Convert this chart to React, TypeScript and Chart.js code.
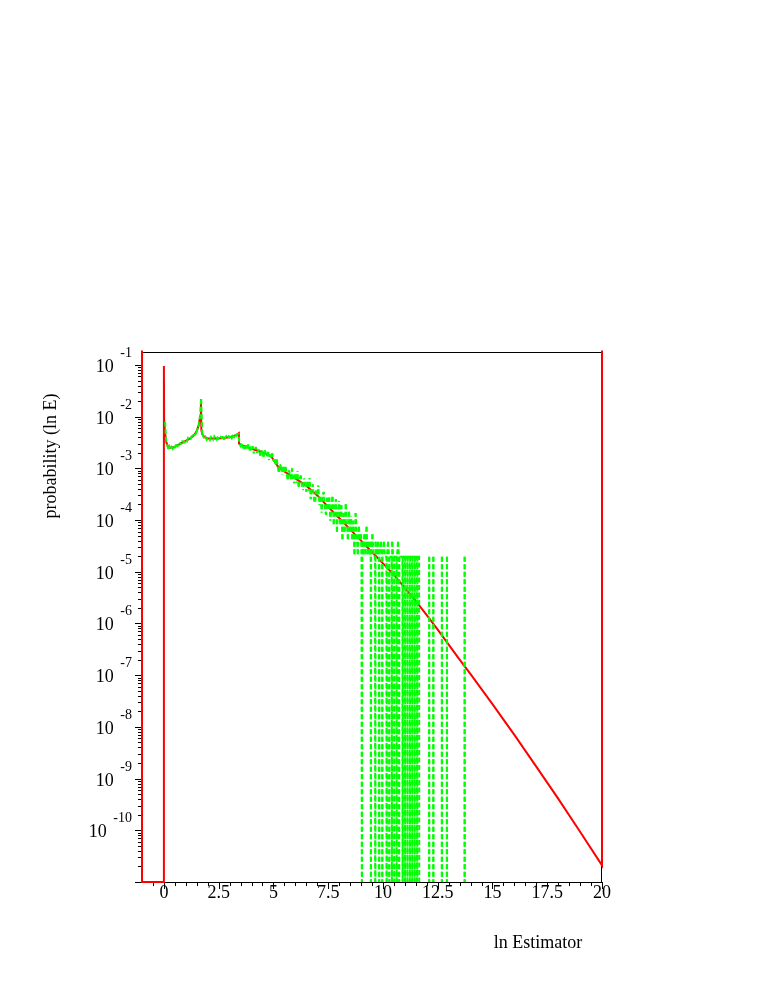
import React, { useEffect, useRef } from 'react';
import { Chart, registerables } from 'chart.js';

Chart.register(...registerables);

// ---------- axes ----------
const X_MIN = -1;
const X_MAX = 20;
const Y_MIN = 1e-11;
const Y_MAX = 0.178;
const X_TICK_VALUES = [0, 2.5, 5, 7.5, 10, 12.5, 15, 17.5, 20];
const X_TICK_LABELS = ['0', '2.5', '5', '7.5', '10', '12.5', '15', '17.5', '20'];
const X_MINOR_STEP = 0.5;
const Y_TICK_VALUES = [1e-1, 1e-2, 1e-3, 1e-4, 1e-5, 1e-6, 1e-7, 1e-8, 1e-9, 1e-10];
const Y_TICK_EXPONENTS = ['-1', '-2', '-3', '-4', '-5', '-6', '-7', '-8', '-9', '-10'];
const X_TITLE = 'ln Estimator';
const Y_TITLE = 'probability (ln E)';

// ---------- red (theoretical) curve ----------
const RED_X = [-1, -1, 0, 0, 0.01, 0.05, 0.1, 0.2, 0.3, 0.5, 0.75, 1.0, 1.2, 1.4, 1.5, 1.6, 1.65, 1.69, 1.71, 1.75, 1.85, 2.0, 2.5, 3.0, 3.3, 3.42, 3.43, 3.6, 4.0, 4.5, 4.9, 5.2, 5.5, 6.0, 6.5, 7.0, 7.5, 8.0, 8.5, 9.0, 9.5, 10.0, 10.5, 11.0, 11.5, 12.0, 12.5, 13.0, 13.5, 14, 15, 16, 17, 18, 19, 20, 20];
const RED_Y = [10, 1e-11, 1e-11, 0.095, 8.7e-3, 5.0e-3, 3.3e-3, 2.55e-3, 2.5e-3, 2.6e-3, 3.0e-3, 3.4e-3, 3.8e-3, 4.5e-3, 5.3e-3, 7.0e-3, 1.0e-2, 2.2e-2, 5.5e-3, 4.6e-3, 4.0e-3, 3.8e-3, 3.8e-3, 4.0e-3, 4.4e-3, 4.8e-3, 3.0e-3, 2.75e-3, 2.4e-3, 2.05e-3, 1.7e-3, 1.1e-3, 8.7e-4, 6.4e-4, 4.6e-4, 3.0e-4, 1.8e-4, 1.1e-4, 6.6e-5, 4.0e-5, 2.4e-5, 1.45e-5, 8.7e-6, 4.9e-6, 2.7e-6, 1.45e-6, 7.6e-7, 3.9e-7, 2.0e-7, 1.05e-7, 2.75e-8, 7.0e-9, 1.7e-9, 4.1e-10, 9.4e-11, 2.1e-11, 10];

// ---------- green (sampled) histogram ----------
// bins on a regular grid: 0.05, 0.10, ... 9.00
const GREEN_GRID_START = 0.05;
const GREEN_GRID_STEP = 0.05;
const GREEN_GRID_Y = [
  8.7e-3, 3.5e-3, 2.8e-3, 2.35e-3, 2.65e-3, 2.3e-3, 2.6e-3, 2.4e-3, 2.75e-3, 2.45e-3,
  2.9e-3, 2.7e-3, 2.65e-3, 3.1e-3, 3.05e-3, 2.9e-3, 3.45e-3, 3.15e-3, 3.15e-3, 3.55e-3,
  3.35e-3, 3.85e-3, 3.6e-3, 3.5e-3, 4.0e-3, 4.25e-3, 4.0e-3, 4.5e-3, 4.4e-3, 5.25e-3,
  6.0e-3, 7.3e-3, 1.0e-2, 2.2e-2, 4.7e-3, 4.1e-3, 3.75e-3, 4.05e-3, 3.6e-3, 3.95e-3,
  3.9e-3, 3.55e-3, 4.05e-3, 3.85e-3, 3.6e-3, 4.1e-3, 3.7e-3, 3.55e-3, 3.95e-3, 3.75e-3,
  3.6e-3, 4.05e-3, 3.85e-3, 4.2e-3, 3.6e-3, 4.0e-3, 4.2e-3, 3.8e-3, 4.15e-3, 3.95e-3,
  4.3e-3, 3.85e-3, 4.25e-3, 4.05e-3, 4.6e-3, 4.25e-3, 4.55e-3, 4.8e-3, 2.95e-3, 2.7e-3,
  3.1e-3, 2.45e-3, 2.7e-3, 2.2e-3, 2.8e-3, 2.45e-3, 2.9e-3, 2.2e-3, 2.45e-3, 2.2e-3,
  2.7e-3, 1.95e-3, 2.4e-3, 2.6e-3, 2.0e-3, 2.15e-3, 2.35e-3, 1.75e-3, 2.25e-3, 1.95e-3,
  1.65e-3, 2.25e-3, 1.95e-3, 1.7e-3, 2.25e-3, 1.45e-3, 1.85e-3, 1.6e-3, 1.95e-3, 1.4e-3,
  1.65e-3, 1.1e-3, 1.55e-3, 1.05e-3, 8.1e-4, 1.2e-3, 1.05e-3, 7.6e-4, 1.1e-3, 8.0e-4,
  1.15e-3, 7.8e-4, 6.0e-4, 9.1e-4, 7.9e-4, 6.05e-4, 1.0e-3, 6.1e-4, 5.15e-4, 7.85e-4,
  5.25e-4, 8.8e-4, 4.05e-4, 6.45e-4, 7.3e-4, 4.6e-4, 3.8e-4, 6.35e-4, 5.05e-4, 3.55e-4,
  5.9e-4, 3.7e-4, 6.45e-4, 2.55e-4, 4.05e-4, 4.9e-4, 2.55e-4, 2.05e-4, 3.7e-4, 2.8e-4,
  4.65e-4, 1.95e-4, 3.05e-4, 1.4e-4, 3.1e-4, 3.5e-4, 1.7e-4, 1.25e-4, 2.7e-4, 1.65e-4,
  2.73e-4, 9.75e-5, 1.95e-4, 3.12e-4, 7.8e-5, 1.76e-4, 2.54e-4, 5.85e-5, 1.56e-4, 2.34e-4,
  7.8e-5, 1.95e-4, 3.9e-5, 1.37e-4, 5.85e-5, 2.15e-4, 9.75e-5, 3.9e-5, 1.56e-4, 5.85e-5,
  1.17e-4, 3.9e-5, 9.75e-5, 1.95e-5, 1.37e-4, 5.85e-5, 1.95e-5, 7.8e-5, 3.9e-5, 5.85e-5,
];

// sparse tail: empty bins (0) drop to -infinity on the log axis
const GREEN_TAIL_X = [
  9.02, 9.04, 9.06, 9.10, 9.15, 9.20, 9.25, 9.30, 9.35, 9.40, 9.44, 9.45, 9.46, 9.52, 9.57, 9.64, 9.65, 9.66, 9.72, 9.77,
  9.82, 9.83, 9.84, 9.90, 9.96, 9.97, 9.98, 10.04, 10.10, 10.16, 10.17, 10.18, 10.23, 10.28, 10.29, 10.30, 10.35, 10.40, 10.41, 10.42,
  10.47, 10.51, 10.52, 10.53, 10.58, 10.62, 10.63, 10.64, 10.69, 10.73, 10.74, 10.75, 10.80, 10.85, 10.89, 10.90, 10.91, 10.96, 11.00, 11.01,
  11.02, 11.07, 11.11, 11.12, 11.13, 11.18, 11.22, 11.23, 11.24, 11.29, 11.33, 11.34, 11.35, 11.40, 11.44, 11.45, 11.46, 11.51, 11.55, 11.56,
  11.57, 11.62, 11.65, 11.66, 12.10, 12.11, 12.12, 12.29, 12.30, 12.31, 12.68, 12.69, 12.70, 12.91, 12.92, 12.93, 13.72, 13.73, 13.74, 14.00,
];
const GREEN_TAIL_Y = [
  1.95e-5, 0, 3.9e-5, 1.95e-5, 5.85e-5, 1.95e-5, 7.8e-5, 1.95e-5, 3.9e-5, 1.95e-5, 3.9e-5, 0, 1.95e-5, 5.85e-5, 1.95e-5, 1.95e-5, 0, 3.9e-5, 1.95e-5, 3.9e-5,
  1.95e-5, 0, 1.95e-5, 3.9e-5, 1.95e-5, 0, 1.95e-5, 3.9e-5, 1.95e-5, 1.95e-5, 0, 1.95e-5, 3.9e-5, 1.95e-5, 0, 1.95e-5, 1.95e-5, 1.95e-5, 0, 3.9e-5,
  1.95e-5, 1.95e-5, 0, 1.95e-5, 1.95e-5, 1.95e-5, 0, 1.95e-5, 3.9e-5, 1.95e-5, 0, 1.95e-5, 1.95e-5, 1.95e-5, 1.95e-5, 0, 1.95e-5, 1.95e-5, 1.95e-5, 0,
  1.95e-5, 1.95e-5, 1.95e-5, 0, 1.95e-5, 1.95e-5, 1.95e-5, 0, 1.95e-5, 1.95e-5, 1.95e-5, 0, 1.95e-5, 1.95e-5, 1.95e-5, 0, 1.95e-5, 1.95e-5, 1.95e-5, 0,
  1.95e-5, 1.95e-5, 1.95e-5, 0, 0, 1.95e-5, 0, 0, 1.95e-5, 0, 0, 1.95e-5, 0, 0, 1.95e-5, 0, 0, 1.95e-5, 0, 0,
];

const ZERO_FLOOR = 1e-14; // where an empty bin is drawn (below the visible range)
const DASH = [5, 2.5];
const SERIF = '"Liberation Serif", "Times New Roman", serif';

const framePlugin = {
  id: 'mapleFrame',
  beforeDatasetsDraw(chart: any) {
    const { ctx, chartArea: a, scales } = chart;
    const xs = scales.x;
    const ys = scales.y;
    ctx.save();
    ctx.strokeStyle = '#000';
    ctx.lineWidth = 1;
    ctx.strokeRect(a.left + 0.5, a.top + 0.5, a.right - a.left - 1, a.bottom - a.top);

    // x ticks (outward)
    ctx.beginPath();
    const nMinor = Math.round((X_MAX - X_MIN) / X_MINOR_STEP);
    for (let i = 1; i <= nMinor; i++) {
      const v = X_MIN + i * X_MINOR_STEP;
      const px = Math.round(xs.getPixelForValue(v)) + 0.5;
      const major = X_TICK_VALUES.some((t) => Math.abs(t - v) < 1e-9);
      ctx.moveTo(px, a.bottom);
      ctx.lineTo(px, a.bottom + (major ? 7 : 4));
    }
    // y ticks (outward)
    for (let d = -11; d <= -1; d++) {
      for (let k = 1; k <= 9; k++) {
        const v = k * Math.pow(10, d);
        if (v < Y_MIN * 0.999 || v > Y_MAX) continue;
        const py = Math.round(ys.getPixelForValue(v)) + 0.5;
        ctx.moveTo(a.left, py);
        ctx.lineTo(a.left - (k === 1 ? 7 : 4), py);
      }
    }
    ctx.stroke();

    ctx.fillStyle = '#000';
    // x tick labels
    ctx.font = `18px ${SERIF}`;
    ctx.textAlign = 'center';
    ctx.textBaseline = 'alphabetic';
    X_TICK_VALUES.forEach((v, i) => {
      ctx.fillText(X_TICK_LABELS[i], xs.getPixelForValue(v), a.bottom + 16);
    });
    // y tick labels 10^exp
    Y_TICK_VALUES.forEach((v, i) => {
      const py = ys.getPixelForValue(v);
      const right = a.left - 10;
      ctx.textAlign = 'right';
      ctx.font = `14px ${SERIF}`;
      ctx.fillText(Y_TICK_EXPONENTS[i], right, py - 8);
      const w = ctx.measureText(Y_TICK_EXPONENTS[i]).width;
      ctx.font = `18px ${SERIF}`;
      ctx.fillText('10', right - w - 6.5, py + 7);
    });
    // axis titles
    ctx.font = `18px ${SERIF}`;
    ctx.textAlign = 'center';
    ctx.fillText(X_TITLE, 538, a.bottom + 66);
    ctx.save();
    ctx.translate(56, 456);
    ctx.rotate(-Math.PI / 2);
    ctx.fillText(Y_TITLE, 0, 0);
    ctx.restore();
    ctx.restore();
  },
};

export default function App() {
  const ref = useRef<HTMLCanvasElement | null>(null);
  useEffect(() => {
    if (!ref.current) return;
    const green = [
      ...GREEN_GRID_Y.map((y, i) => ({ x: GREEN_GRID_START + i * GREEN_GRID_STEP, y })),
      ...GREEN_TAIL_X.map((x, i) => ({ x, y: GREEN_TAIL_Y[i] })),
    ].map((p) => ({ x: p.x, y: p.y > 0 ? p.y : ZERO_FLOOR }));
    const red = RED_X.map((x, i) => ({ x, y: RED_Y[i] }));
    const minPositive = Math.min(...[...GREEN_GRID_Y, ...GREEN_TAIL_Y].filter((v) => v > 0));
    const period = DASH[0] + DASH[1];

    const chart = new Chart(ref.current, {
      type: 'line',
      data: {
        datasets: [
          {
            label: 'sample',
            data: green,
            borderColor: '#00ff00',
            borderWidth: 2,
            borderDash: DASH,
            pointRadius: 0,
            tension: 0,
            clip: 0,
            segment: {
              borderDashOffset: (c: any) => {
                const dy = c.p1.y - c.p0.y;
                const dx = c.p1.x - c.p0.x;
                if (Math.abs(dy) < 3 * Math.abs(dx)) return 0;
                const refY = c.chart.scales.y.getPixelForValue(minPositive);
                const m = (((c.p0.y - refY) % period) + period) % period;
                return dy >= 0 ? m : (((DASH[0] - m) % period) + period) % period;
              },
            },
          } as any,
          {
            label: 'theory',
            data: red,
            borderColor: '#ff0000',
            borderWidth: 2,
            pointRadius: 0,
            tension: 0,
            clip: 1.5,
          } as any,
        ],
      },
      options: {
        responsive: false,
        maintainAspectRatio: false,
        devicePixelRatio: 1,
        animation: false,
        events: [],
        layout: { padding: { left: 142, top: 352, right: 162, bottom: 107 } },
        plugins: { legend: { display: false }, tooltip: { enabled: false }, title: { display: false } },
        scales: {
          x: { type: 'linear', min: X_MIN, max: X_MAX, display: false },
          y: { type: 'logarithmic', min: Y_MIN, max: Y_MAX, display: false },
        },
      },
      plugins: [framePlugin],
    });
    return () => chart.destroy();
  }, []);

  return (
    <div style={{ position: 'fixed', left: 0, top: 0, width: 764, height: 989, background: '#fff' }}>
      <canvas ref={ref} width={764} height={989} style={{ display: 'block', width: 764, height: 989 }} />
    </div>
  );
}
